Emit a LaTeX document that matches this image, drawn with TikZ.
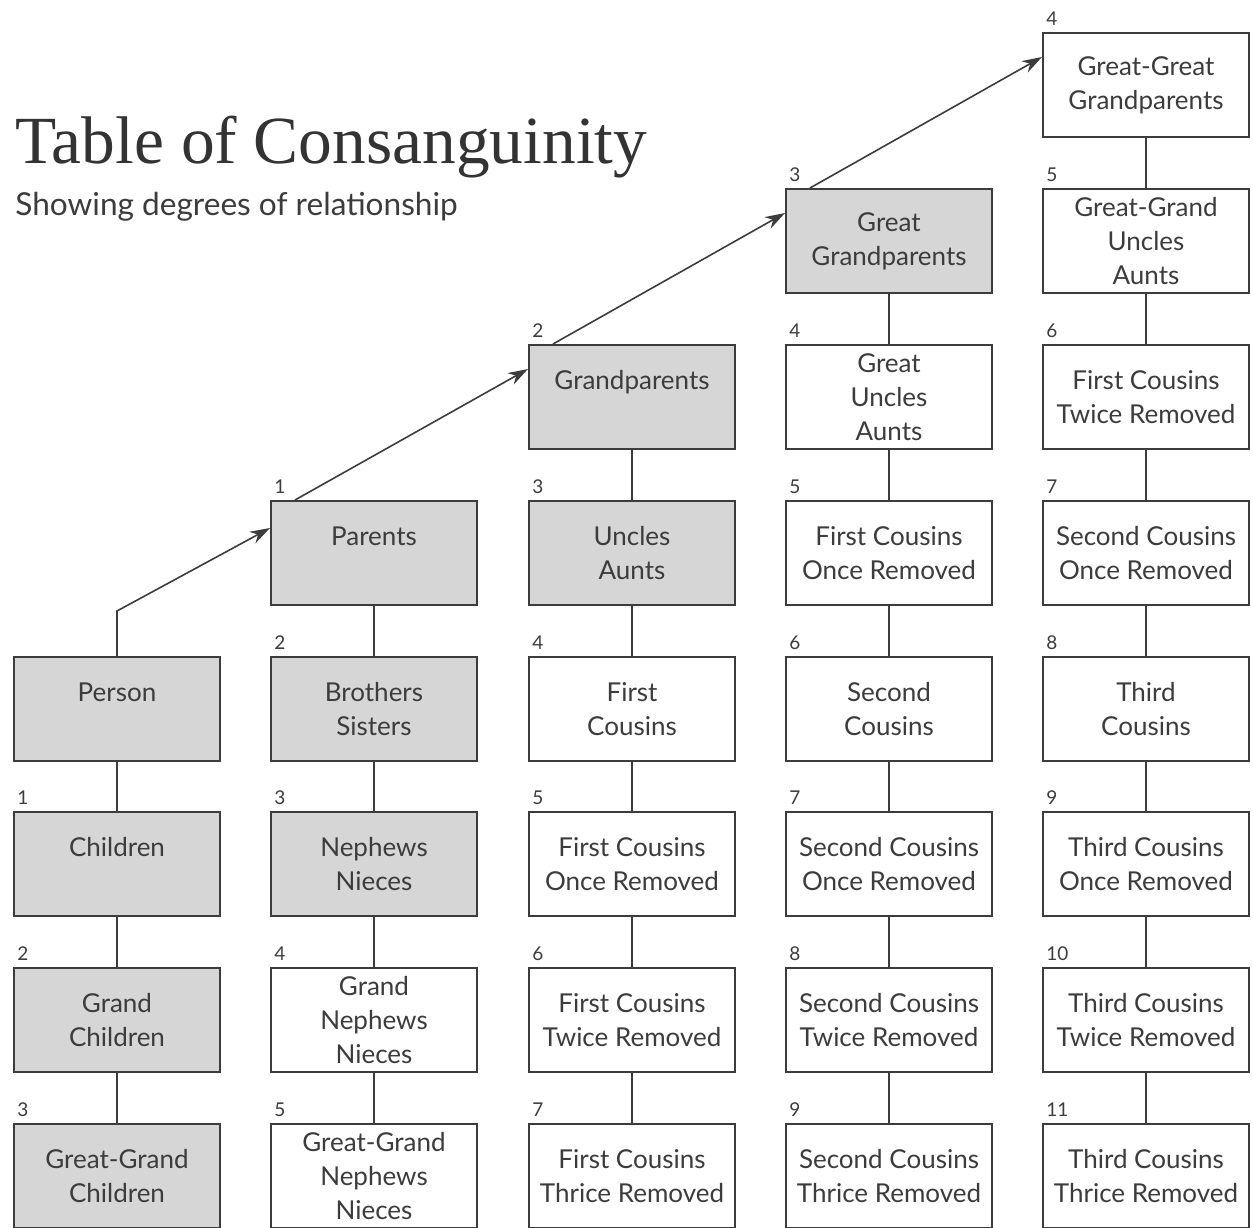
\documentclass[tikz,border=0pt]{standalone}
\usepackage{fontspec}
\setmainfont{Liberation Serif}
\setsansfont{Lato}
\usetikzlibrary{arrows.meta}
\definecolor{boxgray}{RGB}{214,214,214}
\definecolor{ink}{RGB}{60,60,60}
\tikzset{
	box/.style={draw=ink,line width=1pt,minimum width=103pt,minimum height=52pt,inner sep=0pt,align=center,text=ink,font=\sffamily\fontsize{13}{17}\selectfont},
	deg/.style={anchor=south west,inner sep=0pt,xshift=2pt,yshift=3pt,text=ink,font=\sffamily\fontsize{9.5}{9.5}\selectfont},
	gbox/.style 2 args={box,fill=boxgray,label={[deg]north west:{#1}},name=#2},
	wbox/.style 2 args={box,fill=white,label={[deg]north west:{#1}},name=#2},
	arr/.style={draw=ink,line width=0.8pt,-{Stealth[length=10pt,width=6.5pt]}}
}
\begin{document}
\begin{tikzpicture}[x=0.5pt,y=-0.5pt]
	\useasboundingbox (0,0) rectangle (1253,1227);

	\node [anchor=base west,inner sep=0pt,text=ink!85!black,font=\fontsize{33.7}{40}\selectfont] (title) at (15,163) {Table of Consanguinity};
	\node [anchor=base west,inner sep=0pt,text=ink,font=\sffamily\fontsize{15.8}{18}\selectfont] (sub) at (15,215) {Showing degrees of relationship};

	\node [gbox={}{me}] at (117,709) {Person\\~};
	\node [gbox={1}{ch}] at (117,864) {Children\\~};
	\node [gbox={2}{gch}] at (117,1020) {Grand\\Children};
	\node [gbox={3}{ggch}] at (117,1176) {Great-Grand\\Children};

	\node [gbox={1}{par}] at (374,553) {Parents\\~};
	\node [gbox={2}{sib}] at (374,709) {Brothers\\Sisters};
	\node [gbox={3}{nep}] at (374,864) {Nephews\\Nieces};
	\node [wbox={4}{gnep}] at (374,1020) {Grand\\Nephews\\Nieces};
	\node [wbox={5}{ggnep}] at (374,1176) {Great-Grand\\Nephews\\Nieces};

	\node [gbox={2}{gp}] at (632,397) {Grandparents\\~};
	\node [gbox={3}{ua}] at (632,553) {Uncles\\Aunts};
	\node [wbox={4}{fc}] at (632,709) {First\\Cousins};
	\node [wbox={5}{fc1}] at (632,864) {First Cousins\\Once Removed};
	\node [wbox={6}{fc2}] at (632,1020) {First Cousins\\Twice Removed};
	\node [wbox={7}{fc3}] at (632,1176) {First Cousins\\Thrice Removed};

	\node [gbox={3}{ggp}] at (889,241) {Great\\Grandparents};
	\node [wbox={4}{gua}] at (889,397) {Great\\Uncles\\Aunts};
	\node [wbox={5}{fcup1}] at (889,553) {First Cousins\\Once Removed};
	\node [wbox={6}{sc}] at (889,709) {Second\\Cousins};
	\node [wbox={7}{sc1}] at (889,864) {Second Cousins\\Once Removed};
	\node [wbox={8}{sc2}] at (889,1020) {Second Cousins\\Twice Removed};
	\node [wbox={9}{sc3}] at (889,1176) {Second Cousins\\Thrice Removed};

	\node [wbox={4}{gggp}] at (1146,85) {Great-Great\\Grandparents};
	\node [wbox={5}{ggua}] at (1146,241) {Great-Grand\\Uncles\\Aunts};
	\node [wbox={6}{fcup2}] at (1146,397) {First Cousins\\Twice Removed};
	\node [wbox={7}{scup1}] at (1146,553) {Second Cousins\\Once Removed};
	\node [wbox={8}{tc}] at (1146,709) {Third\\Cousins};
	\node [wbox={9}{tc1}] at (1146,864) {Third Cousins\\Once Removed};
	\node [wbox={10}{tc2}] at (1146,1020) {Third Cousins\\Twice Removed};
	\node [wbox={11}{tc3}] at (1146,1176) {Third Cousins\\Thrice Removed};

	\draw [draw=ink,line width=1pt] (me) -- (ch) (ch) -- (gch) (gch) -- (ggch);
	\draw [draw=ink,line width=1pt] (par) -- (sib) (sib) -- (nep) (nep) -- (gnep) (gnep) -- (ggnep);
	\draw [draw=ink,line width=1pt] (gp) -- (ua) (ua) -- (fc) (fc) -- (fc1) (fc1) -- (fc2) (fc2) -- (fc3);
	\draw [draw=ink,line width=1pt] (ggp) -- (gua) (gua) -- (fcup1) (fcup1) -- (sc) (sc) -- (sc1) (sc1) -- (sc2) (sc2) -- (sc3);
	\draw [draw=ink,line width=1pt] (gggp) -- (ggua) (ggua) -- (fcup2) (fcup2) -- (scup1) (scup1) -- (tc) (tc) -- (tc1) (tc1) -- (tc2) (tc2) -- (tc3);

	\draw [arr] (me.north) -- ++(0,-45) -- ([yshift=-14pt]par.north west);
	\draw [arr] ([xshift=12.5pt]par.north west) -- ([yshift=-12.5pt]gp.north west);
	\draw [arr] ([xshift=12.5pt]gp.north west) -- ([yshift=-12.5pt]ggp.north west);
	\draw [arr] ([xshift=12.5pt]ggp.north west) -- ([yshift=-12.5pt]gggp.north west);
\end{tikzpicture}
\end{document}
